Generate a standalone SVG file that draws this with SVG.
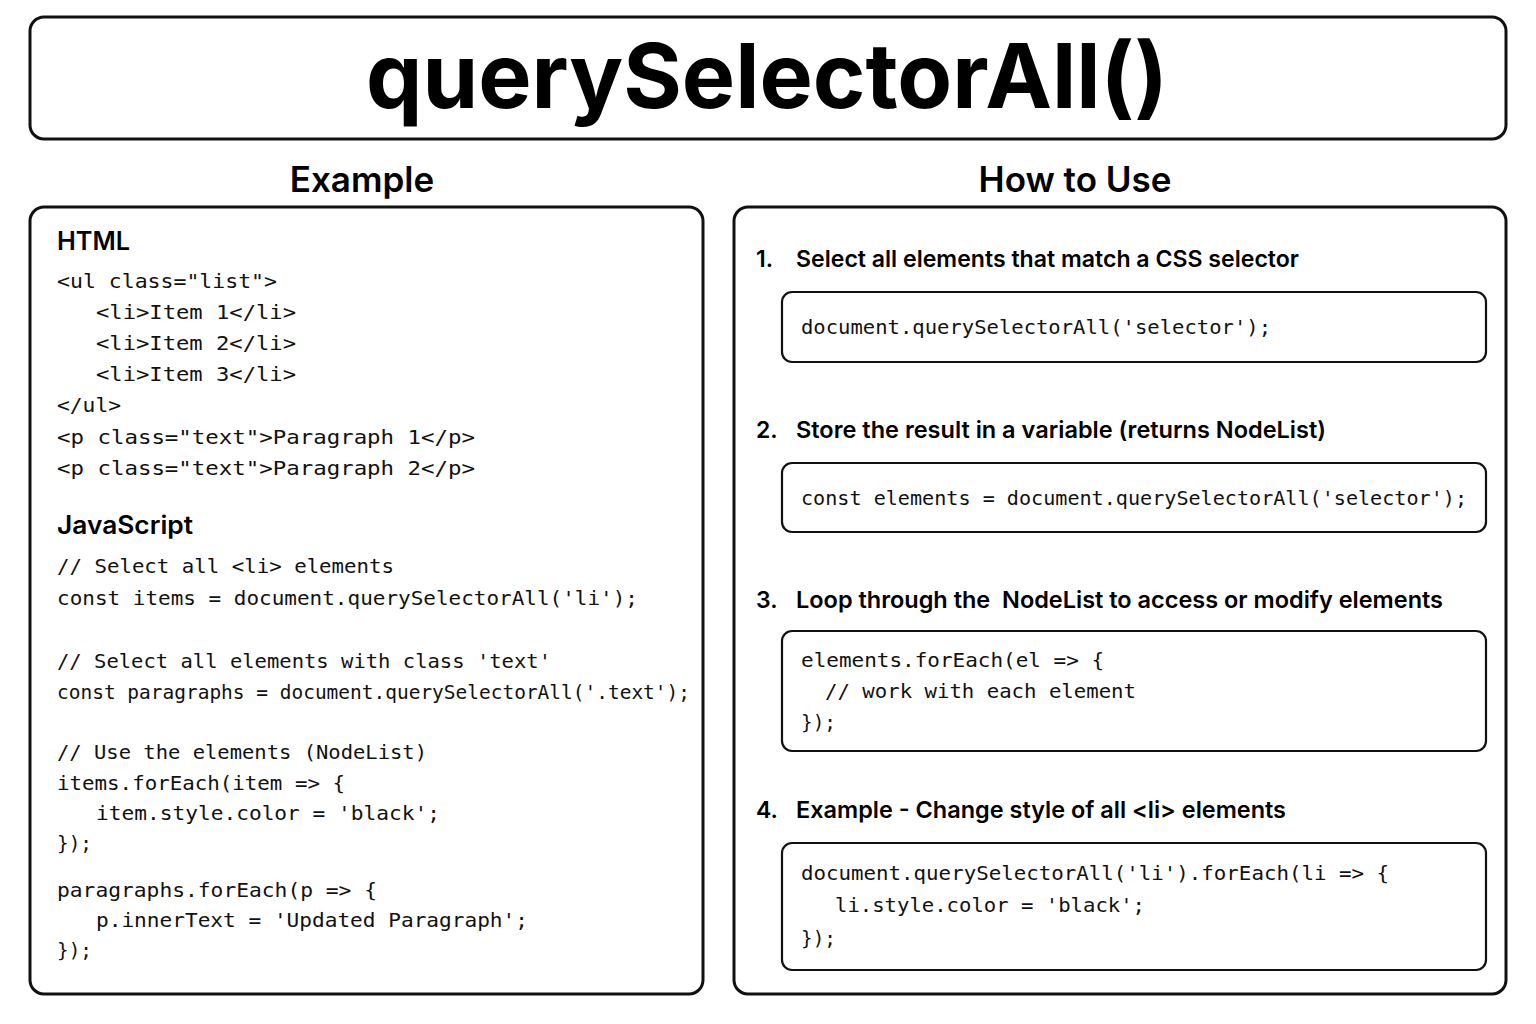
<svg xmlns="http://www.w3.org/2000/svg" width="1536" height="1024" viewBox="0 0 1536 1024">
<style>
.box{fill:#fff;stroke:#111;stroke-width:3}
.cbox{fill:#fff;stroke:#111;stroke-width:2.2}
.title{font-family:Inter,"Noto Sans",sans-serif;font-weight:700;fill:#000}
.h{font-family:Inter,"Noto Sans",sans-serif;font-weight:600;fill:#000}
.code{font-family:"DejaVu Sans Mono","Liberation Mono",monospace;font-size:20px;fill:#111}
</style>
<rect width="1536" height="1024" fill="#fff"/>
<g id="title">
<rect class="box" x="30" y="17" width="1476" height="122" rx="14"/>
<text class="title" x="366" y="108" font-size="90" textLength="802" lengthAdjust="spacingAndGlyphs">querySelectorAll()</text>
</g>
<g id="example">
<text class="h" x="362" y="192" font-size="35" text-anchor="middle">Example</text>
<rect class="box" x="30" y="207" width="673" height="787" rx="14"/>
<text class="h" x="57" y="250" font-size="25" textLength="73" lengthAdjust="spacingAndGlyphs">HTML</text>
<text class="code" x="57" y="288" textLength="220" lengthAdjust="spacingAndGlyphs">&lt;ul class="list"&gt;</text>
<text class="code" x="96" y="319" textLength="200" lengthAdjust="spacingAndGlyphs">&lt;li&gt;Item 1&lt;/li&gt;</text>
<text class="code" x="96" y="350" textLength="200" lengthAdjust="spacingAndGlyphs">&lt;li&gt;Item 2&lt;/li&gt;</text>
<text class="code" x="96" y="381" textLength="200" lengthAdjust="spacingAndGlyphs">&lt;li&gt;Item 3&lt;/li&gt;</text>
<text class="code" x="57" y="412" textLength="64" lengthAdjust="spacingAndGlyphs">&lt;/ul&gt;</text>
<text class="code" x="57" y="444" textLength="418" lengthAdjust="spacingAndGlyphs">&lt;p class="text"&gt;Paragraph 1&lt;/p&gt;</text>
<text class="code" x="57" y="475" textLength="418" lengthAdjust="spacingAndGlyphs">&lt;p class="text"&gt;Paragraph 2&lt;/p&gt;</text>
<text class="h" x="57" y="534" font-size="25" textLength="136" lengthAdjust="spacingAndGlyphs">JavaScript</text>
<text class="code" x="57" y="573" textLength="337" lengthAdjust="spacingAndGlyphs">// Select all &lt;li&gt; elements</text>
<text class="code" x="57" y="605" textLength="581" lengthAdjust="spacingAndGlyphs">const items = document.querySelectorAll('li');</text>
<text class="code" x="57" y="668" textLength="494" lengthAdjust="spacingAndGlyphs">// Select all elements with class 'text'</text>
<text class="code" x="57" y="699" textLength="633" lengthAdjust="spacingAndGlyphs">const paragraphs = document.querySelectorAll('.text');</text>
<text class="code" x="57" y="759" textLength="370" lengthAdjust="spacingAndGlyphs">// Use the elements (NodeList)</text>
<text class="code" x="57" y="790" textLength="288" lengthAdjust="spacingAndGlyphs">items.forEach(item =&gt; {</text>
<text class="code" x="96" y="820" textLength="344" lengthAdjust="spacingAndGlyphs">item.style.color = 'black';</text>
<text class="code" x="57" y="850" textLength="35" lengthAdjust="spacingAndGlyphs">});</text>
<text class="code" x="57" y="897" textLength="320" lengthAdjust="spacingAndGlyphs">paragraphs.forEach(p =&gt; {</text>
<text class="code" x="96" y="927" textLength="432" lengthAdjust="spacingAndGlyphs">p.innerText = 'Updated Paragraph';</text>
<text class="code" x="57" y="957" textLength="35" lengthAdjust="spacingAndGlyphs">});</text>
</g>
<g id="howto">
<text class="h" x="1075" y="192" font-size="35" text-anchor="middle">How to Use</text>
<rect class="box" x="734" y="207" width="772" height="787" rx="14"/>
</g>
<g id="step1">
<text class="h" x="756" y="267" font-size="23">1.</text>
<text class="h" x="796" y="267" font-size="23" textLength="503" lengthAdjust="spacingAndGlyphs">Select all elements that match a CSS selector</text>
<rect class="cbox" x="782" y="292" width="704" height="70" rx="10"/>
<text class="code" x="801" y="334" textLength="470" lengthAdjust="spacingAndGlyphs">document.querySelectorAll('selector');</text>
</g>
<g id="step2">
<text class="h" x="756" y="438" font-size="23">2.</text>
<text class="h" x="796" y="438" font-size="23" textLength="530" lengthAdjust="spacingAndGlyphs">Store the result in a variable (returns NodeList)</text>
<rect class="cbox" x="782" y="463" width="704" height="69" rx="10"/>
<text class="code" x="801" y="505" textLength="666" lengthAdjust="spacingAndGlyphs">const elements = document.querySelectorAll('selector');</text>
</g>
<g id="step3">
<text class="h" x="756" y="608" font-size="23">3.</text>
<text class="h" x="796" y="608" font-size="23" textLength="647" lengthAdjust="spacingAndGlyphs" xml:space="preserve">Loop through the  NodeList to access or modify elements</text>
<rect class="cbox" x="782" y="631" width="704" height="120" rx="10"/>
<text class="code" x="801" y="667" textLength="303" lengthAdjust="spacingAndGlyphs">elements.forEach(el =&gt; {</text>
<text class="code" x="825" y="698" textLength="311" lengthAdjust="spacingAndGlyphs">// work with each element</text>
<text class="code" x="801" y="729" textLength="35" lengthAdjust="spacingAndGlyphs">});</text>
</g>
<g id="step4">
<text class="h" x="756" y="818" font-size="23">4.</text>
<text class="h" x="796" y="818" font-size="23" textLength="490" lengthAdjust="spacingAndGlyphs">Example - Change style of all &lt;li&gt; elements</text>
<rect class="cbox" x="782" y="843" width="704" height="127" rx="10"/>
<text class="code" x="801" y="880" textLength="588" lengthAdjust="spacingAndGlyphs">document.querySelectorAll('li').forEach(li =&gt; {</text>
<text class="code" x="835" y="912" textLength="310" lengthAdjust="spacingAndGlyphs">li.style.color = 'black';</text>
<text class="code" x="801" y="945" textLength="35" lengthAdjust="spacingAndGlyphs">});</text>
</g>
<g id="connectors"></g>
</svg>
